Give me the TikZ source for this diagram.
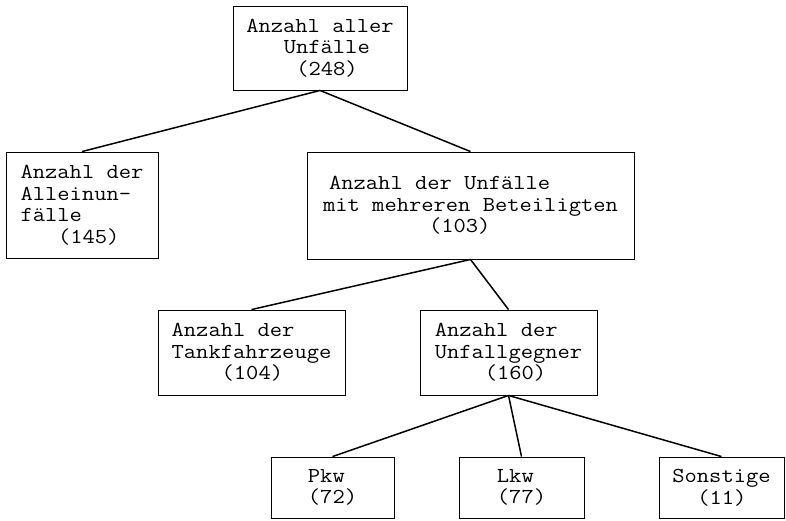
\documentclass[tikz,border=0pt]{standalone}
\usepackage{fontspec}
\setmonofont[FakeStretch=1.12]{Latin Modern Mono}
\begin{document}
\begin{tikzpicture}[x=1pt,y=-1pt,
  box/.style={draw=black, line width=0.9pt, inner sep=0pt, align=left,
    font=\ttfamily\fontsize{21.3}{21.5}\selectfont},
  link/.style={draw=black, line width=1.5pt}]
\useasboundingbox (0,0) rectangle (786,520);
\node[box, minimum width=174pt, minimum height=84pt] (all) at (320,48)
  {Anzahl aller\\\hspace*{37.5pt}Unfälle\\\hspace*{50pt}(248)};
\node[box, minimum width=152pt, minimum height=106pt] (allein) at (82,205)
  {Anzahl der\\Alleinun-\\fälle\\\hspace*{37.5pt}(145)};
\node[box, minimum width=327pt, minimum height=107pt] (mehr) at (470.5,205.5)
  {\hspace*{6pt}Anzahl der Unfälle\\mit mehreren Beteiligten\hspace*{11pt}\\\hspace*{106pt}(103)};
\node[box, minimum width=187pt, minimum height=85pt] (tank) at (251.5,352.5)
  {Anzahl der\\Tankfahrzeuge\\\hspace*{50pt}(104)};
\node[box, minimum width=177pt, minimum height=85pt] (gegner) at (508.5,352.5)
  {Anzahl der\\Unfallgegner\\\hspace*{50pt}(160)};
\node[box, minimum width=123pt, minimum height=61pt] (pkw) at (332.5,487.5)
  {Pkw\\(72)};
\node[box, minimum width=125pt, minimum height=61pt] (lkw) at (521.5,487.5)
  {Lkw\\(77)};
\node[box, minimum width=125pt, minimum height=61pt] (sonst) at (721.5,487.5)
  {Sonstige\\\hspace*{25pt}(11)};
\draw[link] (all.south) -- (allein.north);
\draw[link] (all.south) -- (mehr.north);
\draw[link] (mehr.south) -- (tank.north);
\draw[link] (mehr.south) -- (gegner.north);
\draw[link] (gegner.south) -- (pkw.north);
\draw[link] (gegner.south) -- (lkw.north);
\draw[link] (gegner.south) -- (sonst.north);
\end{tikzpicture}
\end{document}
